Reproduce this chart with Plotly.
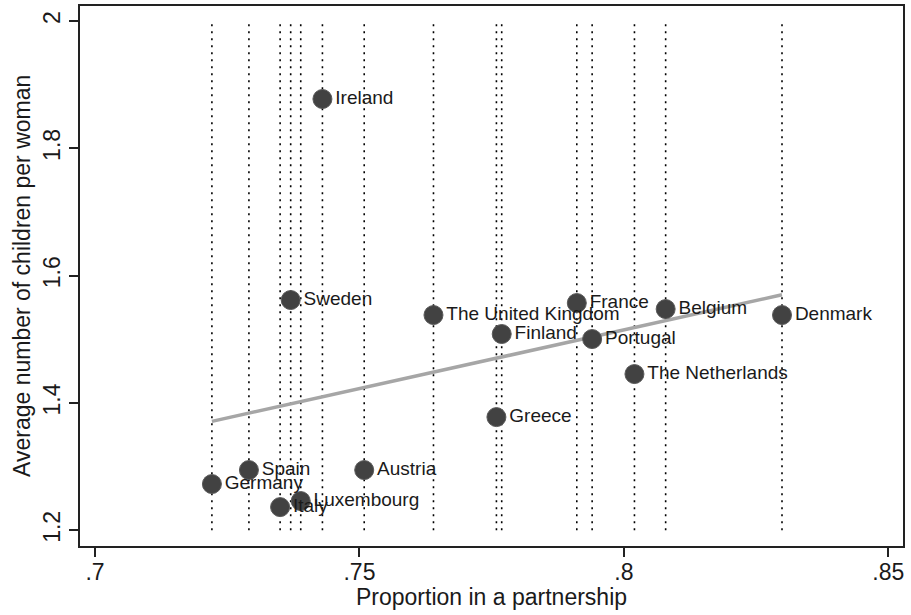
import numpy as np
import plotly.graph_objects as go

countries = ["Germany", "Spain", "Italy", "Sweden", "Luxembourg", "Ireland", "Austria",
             "The United Kingdom", "Greece", "Finland", "France", "Portugal",
             "The Netherlands", "Belgium", "Denmark"]
partnership = [0.7221, 0.7291, 0.7350, 0.7370, 0.7389, 0.7430, 0.7509,
               0.7640, 0.7759, 0.7769, 0.7911, 0.7940, 0.8020, 0.8079, 0.8299]
children = [1.2726, 1.2946, 1.2364, 1.5617, 1.2459, 1.8775, 1.2946,
            1.5381, 1.3778, 1.5083, 1.5570, 1.5004, 1.4454, 1.5475, 1.5381]

x_ticks = [0.70, 0.75, 0.80, 0.85]
x_tick_labels = [".7", ".75", ".8", ".85"]
y_ticks = [1.2, 1.4, 1.6, 1.8, 2.0]
y_tick_labels = ["1.2", "1.4", "1.6", "1.8", "2"]
x_title = "Proportion in a partnership"
y_title = "Average number of children per woman"

FONT = "Liberation Sans, Arial, Helvetica, sans-serif"

fig = go.Figure()

# dotted vertical reference lines at each country's x value
vx, vy = [], []
for xv in partnership:
    vx += [xv, xv, None]
    vy += [min(y_ticks), max(y_ticks), None]
fig.add_trace(go.Scatter(x=vx, y=vy, mode="lines", hoverinfo="skip",
                         line=dict(color="black", width=1.6, dash="2px,5px"),
                         showlegend=False))

# OLS fitted line
slope, intercept = np.polyfit(partnership, children, 1)
fx = [min(partnership), max(partnership)]
fy = [slope * v + intercept for v in fx]
fig.add_trace(go.Scatter(x=fx, y=fy, mode="lines",
                         line=dict(color="#a6a6a6", width=3.5),
                         showlegend=False))

# country markers with labels
fig.add_trace(go.Scatter(x=partnership, y=children, mode="markers+text",
                         text=countries, textposition="middle right",
                         textfont=dict(family=FONT, size=19, color="#1a1a1a"),
                         marker=dict(size=19, color="#424242",
                                     line=dict(color="#5a5a5a", width=1)),
                         cliponaxis=False, showlegend=False))

fig.update_layout(
    width=911, height=615,
    margin=dict(l=80, r=8, t=6, b=69),
    paper_bgcolor="white", plot_bgcolor="white",
    font=dict(family=FONT, color="#1a1a1a"),
    annotations=[
        dict(text=x_title, xref="paper", yref="paper", x=0.5, y=0,
             xanchor="center", yanchor="middle", yshift=-51, showarrow=False,
             font=dict(size=23, family=FONT, color="#1a1a1a")),
        dict(text=y_title, xref="paper", yref="paper", x=0, y=0.5,
             xanchor="center", yanchor="middle", xshift=-58, textangle=-90,
             showarrow=False, font=dict(size=23, family=FONT, color="#1a1a1a")),
    ],
)
fig.update_xaxes(range=[0.69716, 0.85278], tickvals=x_ticks, ticktext=x_tick_labels,
                 ticks="outside", ticklen=9, tickwidth=1.5, tickcolor="#222",
                 ticklabelstandoff=-5,
                 showgrid=False, zeroline=False, automargin=False,
                 showline=True, linecolor="#222", linewidth=2, mirror=True,
                 tickfont=dict(size=23))
fig.update_yaxes(range=[1.1753, 2.0236], tickvals=y_ticks, ticktext=y_tick_labels,
                 ticks="outside", ticklen=9, tickwidth=1.5, tickcolor="#222",
                 tickangle=-90, automargin=False,
                 showgrid=False, zeroline=False,
                 showline=True, linecolor="#222", linewidth=2, mirror=True,
                 tickfont=dict(size=23))

fig.write_html("out.html", config={"displayModeBar": False},
               post_script="document.body.style.margin='0';document.body.style.overflow='hidden';")
